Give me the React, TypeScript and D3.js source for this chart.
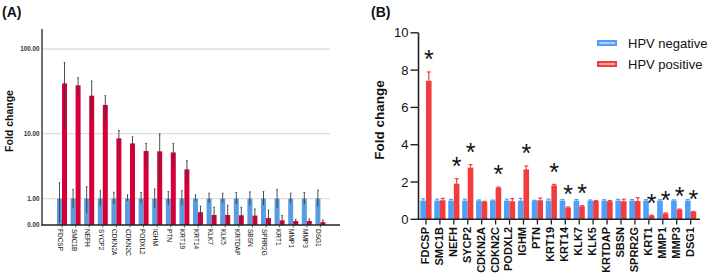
import React from "react";
import * as d3 from "d3";

const genes = ["FDCSP","SMC1B","NEFH","SYCP2","CDKN2A","CDKN2C","PODXL2","IGHM","PTN","KRT19","KRT14","KLK7","KLK5","KRTDAP","SBSN","SPRR2G","KRT1","MMP1","MMP3","DSG1"];

// Panel A (log-type axis)
const aNegMean = [1,1,1,1,1,1,1,1,1,1,1,1,1,1,1,1,1,1,1,1];
const aNegHi = [2.03,1.55,1.73,1.46,1.36,1.2,1.34,1.57,1.4,1.46,1.2,1.3,1.3,1.34,1.38,1.4,1.55,1.3,1.34,1.5];
const aNegLo = [0.06,0.55,0.36,0.65,0.73,0.88,0.77,0.55,0.7,0.69,0.88,0.77,0.77,0.73,0.69,0.69,0.55,0.77,0.73,0.62];
const aPosMean = [40,38,28.7,22.3,8.7,7.5,5.96,5.9,5.7,3.3,0.4,0.3,0.3,0.29,0.28,0.2,0.13,0.11,0.11,0.08];
const aPosHi = [70,46.6,42.6,28.7,10.9,9.1,7.5,9.9,7.5,4.4,0.64,0.59,0.68,0.59,0.52,0.48,0.28,0.16,0.17,0.14];
const aPosLo = [11.4,31,14.4,14.7,6.8,6.3,3.8,2.0,3.95,2.0,0.16,0.06,0.04,0.05,0.08,0.02,0.02,0.06,0.05,0.03];
const aTicks = [0,1,10,100];

// Panel B (linear axis)
const bNegMean = [1,1,1,1,1,1,1,1,1,1,1,1,1,1,1,1,1,1,1,1];
const bNegHi = [1.1,1.08,1.06,1.08,1.04,1.03,1.08,1.12,1.02,1.08,1.06,1.06,1.04,1.05,1.07,1.06,1.05,1.05,1.04,1.06];
const bPosMean = [7.43,1.02,1.91,2.77,0.93,1.7,0.97,2.68,1.02,1.82,0.63,0.7,0.98,0.97,0.97,0.98,0.2,0.31,0.52,0.39];
const bPosHi = [7.9,1.12,2.18,2.93,0.96,1.73,1.11,2.86,1.14,1.87,0.66,0.73,1.0,1.0,1.08,1.16,0.22,0.34,0.55,0.42];
const bSig = [1,0,1,1,0,1,0,1,0,1,1,1,0,0,0,0,1,1,1,1];
const bTicks = [0,2,4,6,8,10];
const legendLabels = ["HPV negative","HPV positive"];

const FONT = "Liberation Sans, Arial, sans-serif";
const A_BLUE = "#5a9ce0";
const A_RED = "#d5003a";
const B_BLUE = "#4f9ef7";
const B_RED = "#f43c3f";

export default function App() {
  // ---- Panel A scales
  const xA = d3.scaleBand<string>().domain(genes).range([55.2, 327.2]);
  const yA = d3.scaleSymlog().constant(1).domain([0, 100]).range([225, 49]);
  const bwA = 5;
  const fmtA = d3.format(".2f");

  // ---- Panel B scales
  const xB = d3.scaleBand<string>().domain(genes).range([419, 697.6]);
  const yB = d3.scaleLinear().domain([0, 10]).range([219.3, 32.8]);
  const bwB = 5.6;

  const cA = (g: string) => (xA(g) as number) + xA.bandwidth() / 2;
  const cB = (g: string) => (xB(g) as number) + xB.bandwidth() / 2;

  return (
    <svg width={709} height={279} style={{ position: "absolute", left: 0, top: 0, background: "#fff", fontFamily: FONT }}>
      <rect x={0} y={0} width={709} height={279} fill="#fff" />
      {/* ===== Panel A ===== */}
      <text x={2} y={17} fontSize={14} fontWeight="bold" fill="#111">(A)</text>
      {aTicks.filter(t => t > 0).map(t => (
        <line key={"g" + t} x1={42} x2={330} y1={yA(t)} y2={yA(t)} stroke="#dedede" strokeWidth={1.3} />
      ))}
      {aTicks.map(t => (
        <text key={"t" + t} x={39.5} y={yA(t)} dy="0.35em" fontSize={6.3} textAnchor="end" fill="#333" fontWeight="bold">{fmtA(t)}</text>
      ))}
      <text transform={`translate(13,${121}) rotate(-90)`} textAnchor="middle" fontSize={10.5} fontWeight="bold" fill="#111">Fold change</text>
      {genes.map((g, i) => {
        const c = cA(g);
        return (
          <g key={"a" + g}>
            <rect x={c - bwA} y={yA(aNegMean[i])} width={bwA} height={yA(0) - yA(aNegMean[i])} fill={A_BLUE} />
            <rect x={c} y={yA(aPosMean[i])} width={bwA} height={yA(0) - yA(aPosMean[i])} fill={A_RED} />
            <line x1={c - bwA / 2} x2={c - bwA / 2} y1={yA(aNegHi[i])} y2={yA(aNegLo[i])} stroke="#3a3a3a" strokeWidth={0.9} />
            <line x1={c - bwA / 2 - 0.8} x2={c - bwA / 2 + 0.8} y1={yA(aNegHi[i])} y2={yA(aNegHi[i])} stroke="#3a3a3a" strokeWidth={0.9} />
            <line x1={c + bwA / 2} x2={c + bwA / 2} y1={yA(aPosHi[i])} y2={yA(aPosLo[i])} stroke="#3a3a3a" strokeWidth={0.9} />
            <line x1={c + bwA / 2 - 0.8} x2={c + bwA / 2 + 0.8} y1={yA(aPosHi[i])} y2={yA(aPosHi[i])} stroke="#3a3a3a" strokeWidth={0.9} />
            <line x1={c} x2={c} y1={225} y2={227.5} stroke="#333" strokeWidth={0.8} />
            <text transform={`translate(${c - 2.2},${229}) rotate(90)`} fontSize={6.5} fill="#111" dominantBaseline="middle">{g}</text>
          </g>
        );
      })}
      <line x1={42} x2={42} y1={29} y2={225.5} stroke="#333" strokeWidth={1.4} />
      <line x1={41.5} x2={340} y1={225} y2={225} stroke="#222" strokeWidth={1.4} />

      {/* ===== Panel B ===== */}
      <text x={371} y={17} fontSize={14} fontWeight="bold" fill="#111">(B)</text>
      {bTicks.map(t => (
        <g key={"bt" + t}>
          <line x1={410.5} x2={418.5} y1={yB(t)} y2={yB(t)} stroke="#222" strokeWidth={1.4} />
          <text x={408.5} y={yB(t)} dy="0.36em" fontSize={13} textAnchor="end" fill="#111">{t}</text>
        </g>
      ))}
      <text transform={`translate(384,${120}) rotate(-90)`} textAnchor="middle" fontSize={13.5} fontWeight="bold" fill="#111">Fold change</text>
      {genes.map((g, i) => {
        const c = cB(g);
        return (
          <g key={"b" + g}>
            <rect x={c - bwB} y={yB(bNegMean[i])} width={bwB} height={yB(0) - yB(bNegMean[i])} fill={B_BLUE} />
            <rect x={c} y={yB(bPosMean[i])} width={bwB} height={yB(0) - yB(bPosMean[i])} fill={B_RED} />
            <line x1={c - bwB / 2} x2={c - bwB / 2} y1={yB(bNegHi[i])} y2={yB(bNegMean[i])} stroke={B_BLUE} strokeWidth={1.2} />
            <line x1={c - bwB / 2 - 2} x2={c - bwB / 2 + 2} y1={yB(bNegHi[i])} y2={yB(bNegHi[i])} stroke={B_BLUE} strokeWidth={1.2} />
            <line x1={c + bwB / 2} x2={c + bwB / 2} y1={yB(bPosHi[i])} y2={yB(bPosMean[i])} stroke={B_RED} strokeWidth={1.2} />
            <line x1={c + bwB / 2 - 2} x2={c + bwB / 2 + 2} y1={yB(bPosHi[i])} y2={yB(bPosHi[i])} stroke={B_RED} strokeWidth={1.2} />
            {bSig[i] ? (
              <text x={c + bwB / 2} y={yB(bPosHi[i] + 1.0)} dy="0.6em" fontSize={25} textAnchor="middle" fill="#111">*</text>
            ) : null}
            <line x1={c} x2={c} y1={219.3} y2={224.5} stroke="#222" strokeWidth={1.3} />
            <text transform={`translate(${c},${227}) rotate(-90)`} fontSize={11} fontWeight="bold" textAnchor="end" dominantBaseline="middle" fill="#111">{g}</text>
          </g>
        );
      })}
      <line x1={418.5} x2={418.5} y1={yB(10)} y2={220} stroke="#222" strokeWidth={1.6} />
      <line x1={417.8} x2={700} y1={219.3} y2={219.3} stroke="#222" strokeWidth={1.6} />

      {/* legend */}
      {legendLabels.map((l, i) => {
        const col = i === 0 ? B_BLUE : B_RED;
        const yy = 43 + i * 21;
        return (
          <g key={l}>
            <rect x={597} y={yy - 3} width={20} height={6} fill={col} />
            <line x1={599} x2={615} y1={yy} y2={yy} stroke="#fff" strokeWidth={1} />
            <text x={628} y={yy} dy="0.36em" fontSize={13} fill="#111">{l}</text>
          </g>
        );
      })}
    </svg>
  );
}
